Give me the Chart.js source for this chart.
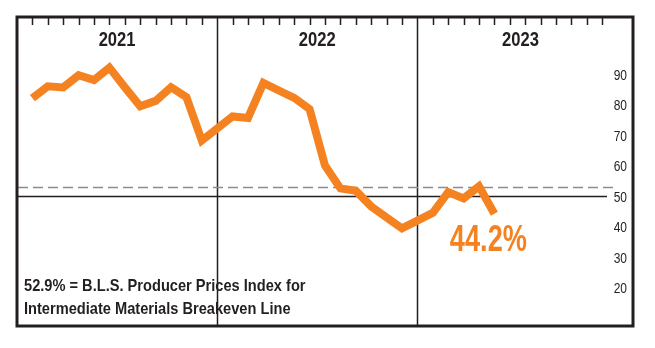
<!DOCTYPE html>
<html>
<head>
<meta charset="utf-8">
<script src="https://cdn.jsdelivr.net/npm/chart.js@4.4.0/dist/chart.umd.min.js"></script>
<style>
  html, body { margin: 0; padding: 0; background: #ffffff; }
  #wrap { width: 655px; height: 348px; position: relative; }
</style>
</head>
<body>
<div id="wrap"><canvas id="c" width="655" height="348"></canvas></div>
<script>
// ---- Data ----
const years = ['2021', '2022', '2023'];
const months = ['Jan','Feb','Mar','Apr','May','Jun','Jul','Aug','Sep','Oct','Nov','Dec'];
const values2021 = [82.1, 86.0, 85.6, 89.6, 88.0, 92.1, 85.7, 79.4, 81.2, 85.7, 82.4, 68.2];
const values2022 = [76.1, 75.6, 87.1, 84.6, 82.2, 78.5, 60.0, 52.5, 51.7, 46.6, 43.0, 39.4];
const values2023 = [44.5, 51.3, 49.2, 53.2, 44.2];
const yTickValues = [20, 30, 40, 50, 60, 70, 80, 90];
const breakeven = 52.9;
const baseline = 50;
const lastLabel = '44.2%';
const noteLines = ['52.9% = B.L.S. Producer Prices Index for', 'Intermediate Materials Breakeven Line'];

// slots per year: 12 months plus one boundary slot
const SLOTS = 13;
const seriesByYear = [values2021, values2022, values2023];
const points = [];
seriesByYear.forEach((vals, yi) => {
  vals.forEach((v, mi) => points.push({ x: yi * SLOTS + mi + 1, y: v, label: months[mi] + ' ' + years[yi] }));
});

const INK = '#231f20';
const ORANGE = '#f58220';
const FONT = '"Liberation Sans", Arial, sans-serif';

// draw horizontally condensed text (Helvetica Condensed look)
function condensedText(ctx, text, x, y, sx, align) {
  ctx.save();
  ctx.translate(x, y);
  ctx.scale(sx, 1);
  ctx.textAlign = align;
  ctx.fillText(text, 0, 0);
  ctx.restore();
}

const decor = {
  id: 'decor',
  beforeDatasetsDraw(chart) {
    const { ctx, chartArea: a, scales: { x, y } } = chart;
    ctx.save();
    // year dividers
    ctx.strokeStyle = INK;
    ctx.lineWidth = 1.5;
    for (let yi = 1; yi < years.length; yi++) {
      const px = Math.round(x.getPixelForValue(yi * SLOTS)) + 0.5;
      ctx.beginPath(); ctx.moveTo(px, a.top); ctx.lineTo(px, a.bottom); ctx.stroke();
    }
    // monthly ticks along the top
    for (let yi = 0; yi < years.length; yi++) {
      for (let m = 1; m <= 12; m++) {
        const px = Math.round(x.getPixelForValue(yi * SLOTS + m)) + 0.5;
        ctx.beginPath(); ctx.moveTo(px, a.top); ctx.lineTo(px, a.top + 8); ctx.stroke();
      }
    }
    // solid 50 line
    const y50 = Math.round(y.getPixelForValue(baseline)) + 0.5;
    ctx.beginPath(); ctx.moveTo(a.left, y50); ctx.lineTo(a.right - 26, y50); ctx.stroke();
    // dashed breakeven line
    const yb = Math.round(y.getPixelForValue(breakeven)) + 0.5;
    ctx.strokeStyle = '#8c8c8c';
    ctx.setLineDash([10, 5]);
    ctx.beginPath(); ctx.moveTo(a.left + 1, yb); ctx.lineTo(a.right - 20, yb); ctx.stroke();
    ctx.setLineDash([]);
    ctx.restore();
  },
  afterDatasetsDraw(chart) {
    const { ctx, chartArea: a, scales: { x, y } } = chart;
    ctx.save();
    ctx.textBaseline = 'alphabetic';
    // y tick labels from the axis ticks
    ctx.fillStyle = INK;
    ctx.font = '15px ' + FONT;
    y.ticks.forEach(t => {
      condensedText(ctx, String(t.value), a.right - 6, y.getPixelForValue(t.value) + 5.5, 0.8, 'right');
    });
    // year labels
    ctx.font = 'bold 21px ' + FONT;
    years.forEach((yr, yi) => {
      const cx = (x.getPixelForValue(yi * SLOTS) + x.getPixelForValue((yi + 1) * SLOTS)) / 2;
      condensedText(ctx, yr, cx + (yi === 2 ? 3 : 0), 46, 0.79, 'center');
    });
    // last value label
    const last = points[points.length - 1];
    ctx.fillStyle = ORANGE;
    ctx.font = 'bold 36px ' + FONT;
    condensedText(ctx, lastLabel, x.getPixelForValue(last.x) - 6, y.getPixelForValue(last.y) + 37, 0.755, 'center');
    // note
    ctx.fillStyle = INK;
    ctx.font = 'bold 17px ' + FONT;
    condensedText(ctx, noteLines[0], a.left + 7, 291, 0.86, 'left');
    condensedText(ctx, noteLines[1], a.left + 7, 314, 0.86, 'left');
    // frame
    ctx.strokeStyle = INK;
    ctx.lineWidth = 3;
    ctx.strokeRect(a.left, a.top, a.right - a.left, a.bottom - a.top);
    ctx.restore();
  }
};

new Chart(document.getElementById('c'), {
  type: 'line',
  data: {
    datasets: [{
      data: points,
      borderColor: ORANGE,
      borderWidth: 8,
      borderCapStyle: 'butt',
      borderJoinStyle: 'miter',
      pointRadius: 0,
      tension: 0,
      fill: false
    }]
  },
  options: {
    responsive: false,
    animation: false,
    devicePixelRatio: 1,
    layout: { padding: { left: 17, top: 17, right: 22, bottom: 22 } },
    plugins: { legend: { display: false }, tooltip: { enabled: false } },
    scales: {
      x: { type: 'linear', min: 0, max: 40, display: false },
      y: {
        type: 'linear', position: 'right', min: 7.4, max: 108.7,
        grid: { display: false, drawTicks: false },
        border: { display: false },
        afterBuildTicks(scale) { scale.ticks = yTickValues.map(v => ({ value: v })); },
        afterFit(scale) { scale.width = 0; },
        ticks: { display: false }
      }
    }
  },
  plugins: [decor]
});
</script>
</body>
</html>
